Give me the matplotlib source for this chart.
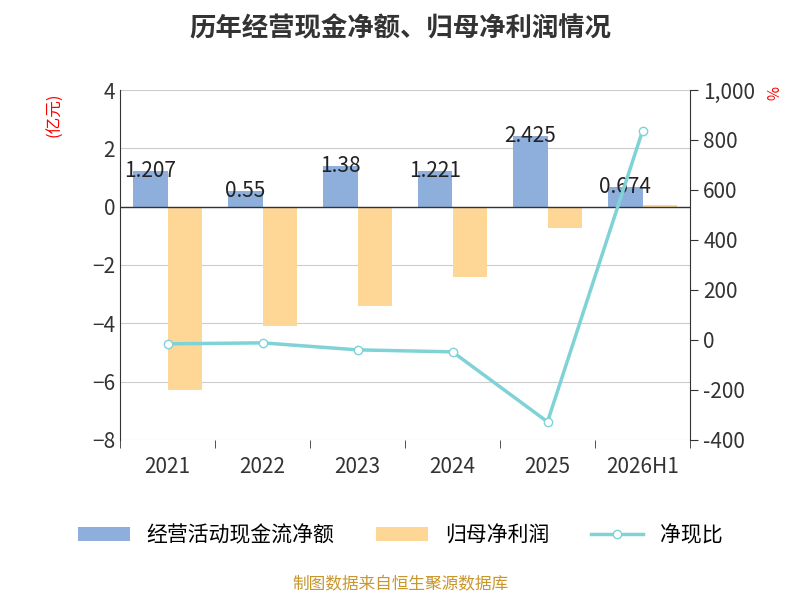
import matplotlib.pyplot as plt
import numpy as np

plt.rcParams['font.family'] = ['Noto Sans CJK SC', 'DejaVu Sans']

years = ["2021", "2022", "2023", "2024", "2025", "2026H1"]
op_cash = [1.207, 0.55, 1.38, 1.221, 2.425, 0.674]
net_profit = [-6.3, -4.1, -3.4, -2.4, -0.75, 0.05]
ratio = [-16, -12, -40, -48, -328, 836]

fig = plt.figure(figsize=(8, 6), dpi=100)
ax = fig.add_axes([0.15, 0.267, 0.7125, 0.583])
x = np.arange(len(years))
w = 0.36
ax.bar(x - w / 2, op_cash, w, color="#8eaedc", label="经营活动现金流净额", zorder=2)
ax.bar(x + w / 2, net_profit, w, color="#fed797", label="归母净利润", zorder=2)
for xi, v in zip(x, op_cash):
    ax.text(xi - w / 2, v, f"{v:g}", ha="center", va="center", fontsize=15, color="#222", zorder=5)
ax.set_ylim(-8, 4)
ax.set_yticks(range(-8, 5, 2))
ax.set_xlim(-0.5, len(years) - 0.5)
ax.set_xticks(x)
ax.set_xticklabels(years)
ax.grid(axis="y", color="#cccccc", zorder=0)
ax.axhline(0, color="#333", lw=1, zorder=3)
for s in ["top", "right"]:
    ax.spines[s].set_visible(False)
ax.spines["bottom"].set_visible(False)
ax.spines["left"].set_color("#333")
ax.tick_params(labelsize=15, colors="#333", length=0)
ax.set_xticks(np.arange(-0.5, len(years)), minor=True)
ax.tick_params(axis="x", which="minor", length=6, color="#333", bottom=True)
ax.tick_params(axis="x", pad=12)
ax.set_ylabel("(亿元)", color="red", fontsize=12)
ax.yaxis.set_label_coords(-0.1, 0.93)

ax2 = ax.twinx()
ax2.plot(x, ratio, color="#7fd3d6", lw=2.5, marker="o", markersize=6,
         markerfacecolor="white", markeredgecolor="#7fd3d6", label="净现比", zorder=4)
ax2.set_ylim(-400, 1000)
ax2.set_yticks(range(-400, 1001, 200))
ax2.set_yticklabels([f"{v:,}" for v in range(-400, 1001, 200)])
for s in ["top", "left", "bottom"]:
    ax2.spines[s].set_visible(False)
ax2.spines["right"].set_color("#333")
ax2.tick_params(labelsize=15, colors="#333", length=6)
ax2.text(1.125, 0.99, "%", color="red", fontsize=11, transform=ax2.transAxes, rotation=-90, va="center")

fig.suptitle("历年经营现金净额、归母净利润情况", fontsize=19, fontweight="bold", color="#333", y=0.975)
h1, l1 = ax.get_legend_handles_labels()
h2, l2 = ax2.get_legend_handles_labels()
fig.legend(h1 + h2, l1 + l2, loc="center", bbox_to_anchor=(0.5, 0.108), ncol=3, frameon=False,
           fontsize=15, handlelength=2.5, columnspacing=2)
fig.text(0.5, 0.018, "制图数据来自恒生聚源数据库", ha="center", color="#c8962a", fontsize=12)
fig.savefig("out.png")
